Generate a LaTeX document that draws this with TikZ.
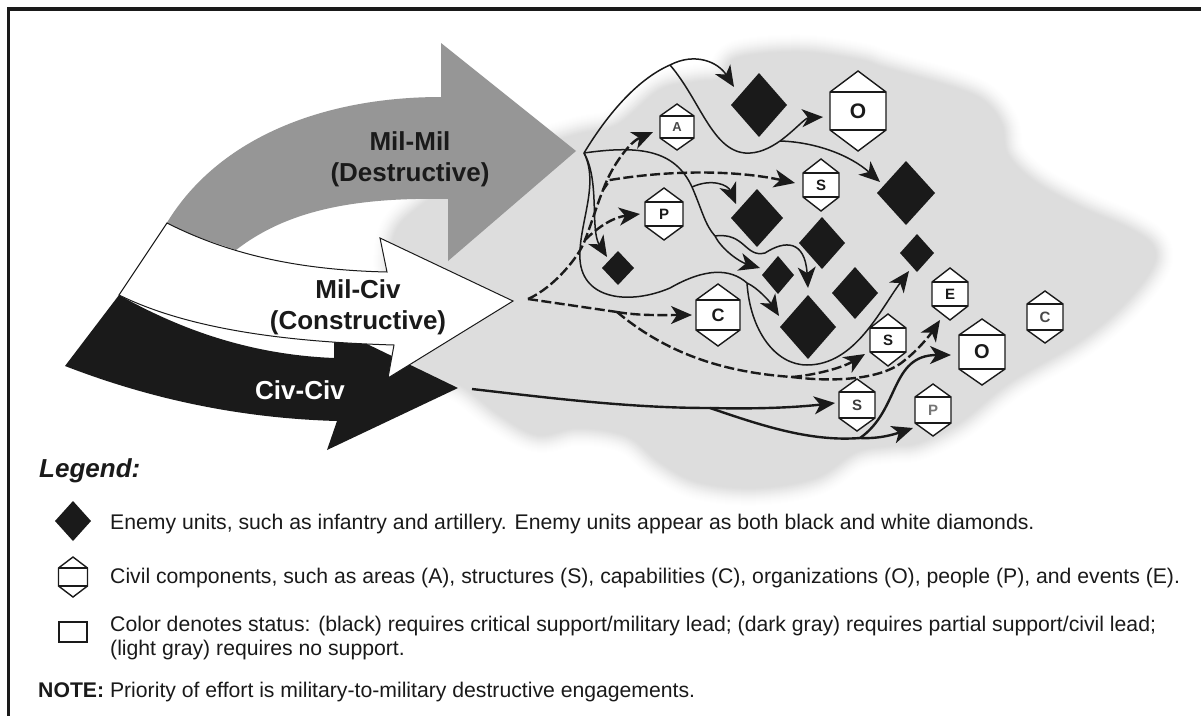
\documentclass[tikz,border=0pt]{standalone}
\usepackage{fontspec}
\setmainfont{Liberation Sans}
\usetikzlibrary{arrows.meta,calc,shapes.geometric}
\definecolor{ink}{HTML}{1A1A1A}
\definecolor{midgray}{HTML}{969696}
\definecolor{blobgray}{HTML}{DDDDDD}
\tikzset{
  x=1pt,y=-1pt,
  civlabel/.style={rectangle,draw=none,inner sep=0pt,font=\bfseries\fontsize{#1}{#1}\selectfont,text=ink},
  hexline/.style={draw=ink,line width=1.4pt,fill=white,line join=miter},
  bighead/.style={-{Stealth[length=21pt,width=18pt,inset=6pt]}},
  thinarrow/.style={draw=ink,line width=1.5pt,bighead},
  thinline/.style={draw=ink,line width=1.5pt},
  dasharrow/.style={draw=ink,line width=2.4pt,dash pattern=on 10pt off 3.5pt,bighead},
  dashline/.style={draw=ink,line width=2.4pt,dash pattern=on 10pt off 3.5pt},
  boldarrow/.style={draw=ink,line width=2.4pt,bighead},
  boldline/.style={draw=ink,line width=2.4pt},
  biglabel/.style={font=\bfseries\fontsize{26}{31}\selectfont,align=center,inner sep=0pt},
  legendtext/.style={anchor=base west,inner sep=0pt,text=ink,font=\fontsize{21.2}{24}\selectfont},
}
% name, x, y, half width, half height, band offset, label, label size
\newcommand{\civnode}[8]{%
  \path[hexline] (#2-#4,#3-#6) -- (#2,#3-#5) -- (#2+#4,#3-#6) -- (#2+#4,#3+#6) -- (#2,#3+#5) -- (#2-#4,#3+#6) -- cycle;
  \draw[draw=ink,line width=1.4pt] (#2-#4,#3-#6) -- (#2+#4,#3-#6) (#2-#4,#3+#6) -- (#2+#4,#3+#6);
  \node[civlabel=#8,minimum width=2*#4 pt,minimum height=2*#5 pt] (#1) at (#2,#3) {#7};}
\newcommand{\foenode}[5]{%
  \path[fill=ink] (#2-#4,#3) -- (#2,#3-#5) -- (#2+#4,#3) -- (#2,#3+#5) -- cycle;
  \node[rectangle,inner sep=0pt,minimum width=2*#4 pt,minimum height=2*#5 pt] (#1) at (#2,#3) {};}
\def\blobpath{plot[smooth cycle,tension=0.6] coordinates {(737,58)(800,52)(860,60)(885,68)(955,88)(985,102)(1002,125)(1008,155)(1035,182)(1080,207)(1128,228)(1153,246)(1152,268)(1122,306)(1078,342)(1010,382)(960,422)(918,443)(890,446)(856,452)(815,478)(755,488)(698,482)(660,462)(627,436)(578,428)(538,435)(500,415)(462,386)(425,372)(400,330)(392,245)(422,205)(500,160)(575,135)(617,125)(660,90)(695,82)(722,78)}}
\begin{document}
\begin{tikzpicture}
\useasboundingbox (0,0) rectangle (1201,715);
\fill[white] (0,0) rectangle (1201,715);
% blurred blob
\foreach \w/\c in {34/3,32/6,30/9,28/13,26/17,24/22,22/27,20/33,18/39,16/45,14/52,12/59,10/66,8/73,6/80,4/87,2/94}{
  \draw[draw=blobgray!\c!white,line width=\w pt,line join=round] \blobpath;
}
\fill[blobgray] \blobpath;
% frame
\draw[ink,line width=3.5pt] (8.5,716) -- (8.5,9) -- (1202,9);
% big arrows
\fill[midgray] (165,226) .. controls (215,140) and (320,97) .. (441,97) -- (441,43) -- (576,151) -- (448,261) -- (448,199)
  .. controls (350,197) and (285,212) .. (236,250) -- cycle;
\fill[ink] (119,295) .. controls (190,335) and (260,355) .. (334,358) -- (334,328) -- (458,388) -- (327,450) -- (337,421)
  .. controls (230,418) and (140,395) .. (65,366) -- cycle;
\draw[ink,fill=white,line width=1pt,line join=miter] (167,223) .. controls (230,255) and (300,270) .. (387,272) -- (380,238) -- (513,301) -- (388,378) -- (394,345)
  .. controls (290,342) and (190,330) .. (119,295) -- cycle;
\node[biglabel,text=ink] (milmil) at (410,159) {Mil-Mil\\(Destructive)};
\node[biglabel,text=ink] (milciv) at (358,307) {Mil-Civ\\(Constructive)};
\node[biglabel,text=white] (civciv) at (300,390) {Civ-Civ};
% enemy units
\foenode{da}{759}{105}{28}{32}{}
\foenode{db}{906}{193}{29}{32}{}
\foenode{dc}{757}{218}{26}{29}{}
\foenode{dd}{822}{243}{23}{26}{}
\foenode{de}{917}{253}{17}{19}{}
\foenode{df}{618}{268}{16}{17}{}
\foenode{dg}{778}{275}{16}{19}{}
\foenode{dh}{808}{327}{28}{32}{}
\foenode{di}{855}{293}{23}{26}{}
% civil components
\civnode{oa}{858}{111}{28}{40}{19}{O}{21}
\civnode{ca}{677}{127}{17}{23}{11}{\textcolor{ink!80}{A}}{13}
\civnode{sa}{821}{185}{18}{26}{12}{S}{15}
\civnode{pa}{664}{214}{19}{26}{12}{P}{15}
\civnode{cb}{718}{315}{22}{31}{15}{C}{18}
\civnode{sb}{888}{340}{18}{26}{12}{S}{15}
\civnode{ea}{950}{294}{18}{26}{12}{E}{15}
\civnode{ob}{982}{352}{23}{33}{17}{O}{20}
\civnode{cc}{1045}{317}{18}{26}{13}{\textcolor{ink!80}{C}}{15}
\civnode{sc}{857}{405}{18}{26}{13}{\textcolor{ink!85}{S}}{15}
\civnode{pb}{933}{410}{18}{26}{13}{\textcolor{ink!60}{P}}{15}
% junctions
\coordinate (j0) at (584,153);
\coordinate (ja) at (670,65);
\coordinate (jb) at (780,141);
\coordinate (jc) at (715,236);
\coordinate (jd) at (747,283);
\coordinate (jm) at (692,187);
\coordinate (ka) at (528,299);
\coordinate (kb) at (617,312);
\coordinate (kc) at (792,377);
\coordinate (kd) at (610,180);
\coordinate (ke) at (603,190);
\coordinate (kf) at (585,240);
\coordinate (ma) at (472,389);
\coordinate (mb) at (710,408);
\coordinate (mc) at (860,438);
% thin connectors
\draw[thinline] (j0) .. controls (610,110) and (640,78) .. (ja);
\draw[thinarrow] (ja) .. controls (695,52) and (718,62) .. ($(da)+(-25,-18)$);
\draw[thinline] (ja) .. controls (700,100) and (712,150) .. (745,153) .. controls (758,154) and (770,148) .. (jb);
\draw[thinarrow] (jb) .. controls (795,130) and (805,118) .. ($(oa)+(-35,6)$);
\draw[thinarrow] (jb) .. controls (815,142) and (850,155) .. ($(db)+(-26,-11)$);
\draw[thinline] (j0) .. controls (640,145) and (675,150) .. (jm) .. controls (702,210) and (705,225) .. (jc);
\draw[thinarrow] (jc) .. controls (722,250) and (740,262) .. ($(dg)+(-18,-7)$);
\draw[thinarrow] (jc) .. controls (745,232) and (745,258) .. (765,253) .. controls (785,240) and (805,240) .. ($(dh)+(0,-39)$);
\draw[thinarrow] (jm) .. controls (712,178) and (728,185) .. ($(dc)+(-21,-14)$);
\draw[thinarrow] (j0) .. controls (600,180) and (590,230) .. ($(df)+(-11,-11)$);
\draw[thinline] (j0) .. controls (600,185) and (578,225) .. (580,260) .. controls (583,300) and (630,305) .. (670,288) .. controls (705,268) and (730,268) .. (jd);
\draw[thinarrow] (jd) .. controls (758,288) and (770,302) .. ($(dh)+(-29,-11)$);
\draw[thinarrow] (jd) .. controls (750,330) and (775,365) .. (807,365) .. controls (855,365) and (880,310) .. ($(de)+(-8,18)$);
% dashed connectors
\draw[dashline] (ka) .. controls (555,287) and (580,255) .. (kf) .. controls (592,222) and (597,205) .. (ke) -- (kd);
\draw[dasharrow] (ke) .. controls (612,165) and (630,142) .. ($(ca)+(-24,5)$);
\draw[dasharrow] (kd) .. controls (670,170) and (735,170) .. ($(sa)+(-26,-2)$);
\draw[dasharrow] (kf) .. controls (600,225) and (615,217) .. ($(pa)+(-24,0)$);
\draw[dashline] (ka) -- (kb);
\draw[dasharrow] (kb) .. controls (640,316) and (665,315) .. ($(cb)+(-26,0)$);
\draw[dashline] (kb) .. controls (665,352) and (720,372) .. (kc);
\draw[dasharrow] (kc) .. controls (815,375) and (842,368) .. ($(sb)+(-23,14)$);
\draw[dasharrow] (kc) .. controls (840,383) and (885,378) .. (905,360) .. controls (918,350) and (930,335) .. ($(ea)+(-10,26)$);
% heavy solid connectors
\draw[boldline] (ma) .. controls (550,398) and (630,408) .. (mb);
\draw[boldarrow] (mb) .. controls (750,409) and (790,408) .. ($(sc)+(-22,-2)$);
\draw[boldline] (mb) .. controls (760,425) and (810,442) .. (mc);
\draw[boldarrow] (mc) .. controls (880,439) and (895,434) .. ($(pb)+(-20,18)$);
\draw[boldarrow] (mc) .. controls (900,410) and (890,355) .. ($(ob)+(-31,3)$);
% legend
\node[anchor=base west,inner sep=0pt,text=ink,font=\bfseries\itshape\fontsize{26}{28}\selectfont] (lg) at (39,477) {Legend:};
\foenode{lga}{73}{521}{18}{20}{}
\civnode{lgb}{73}{577}{14.5}{20}{9}{}{8}
\draw[ink,line width=1.4pt] (59,622) rectangle (87,642);
\node[rectangle,minimum width=28pt,minimum height=20pt,inner sep=0pt] (lgc) at (73,632) {};
\node[legendtext] (ta) at (110,529) {Enemy units, such as infantry and artillery. Enemy units appear as both black and white diamonds.};
\node[legendtext] (tb) at (110,583) {Civil components, such as areas (A), structures (S), capabilities (C), organizations (O), people (P), and events (E).};
\node[legendtext] (tc) at (110,631) {Color denotes status: (black) requires critical support/military lead; (dark gray) requires partial support/civil lead;};
\node[legendtext] (td) at (110,655) {(light gray) requires no support.};
\node[legendtext] (te) at (38,697) {\textbf{NOTE:} Priority of effort is military-to-military destructive engagements.};
\end{tikzpicture}
\end{document}
